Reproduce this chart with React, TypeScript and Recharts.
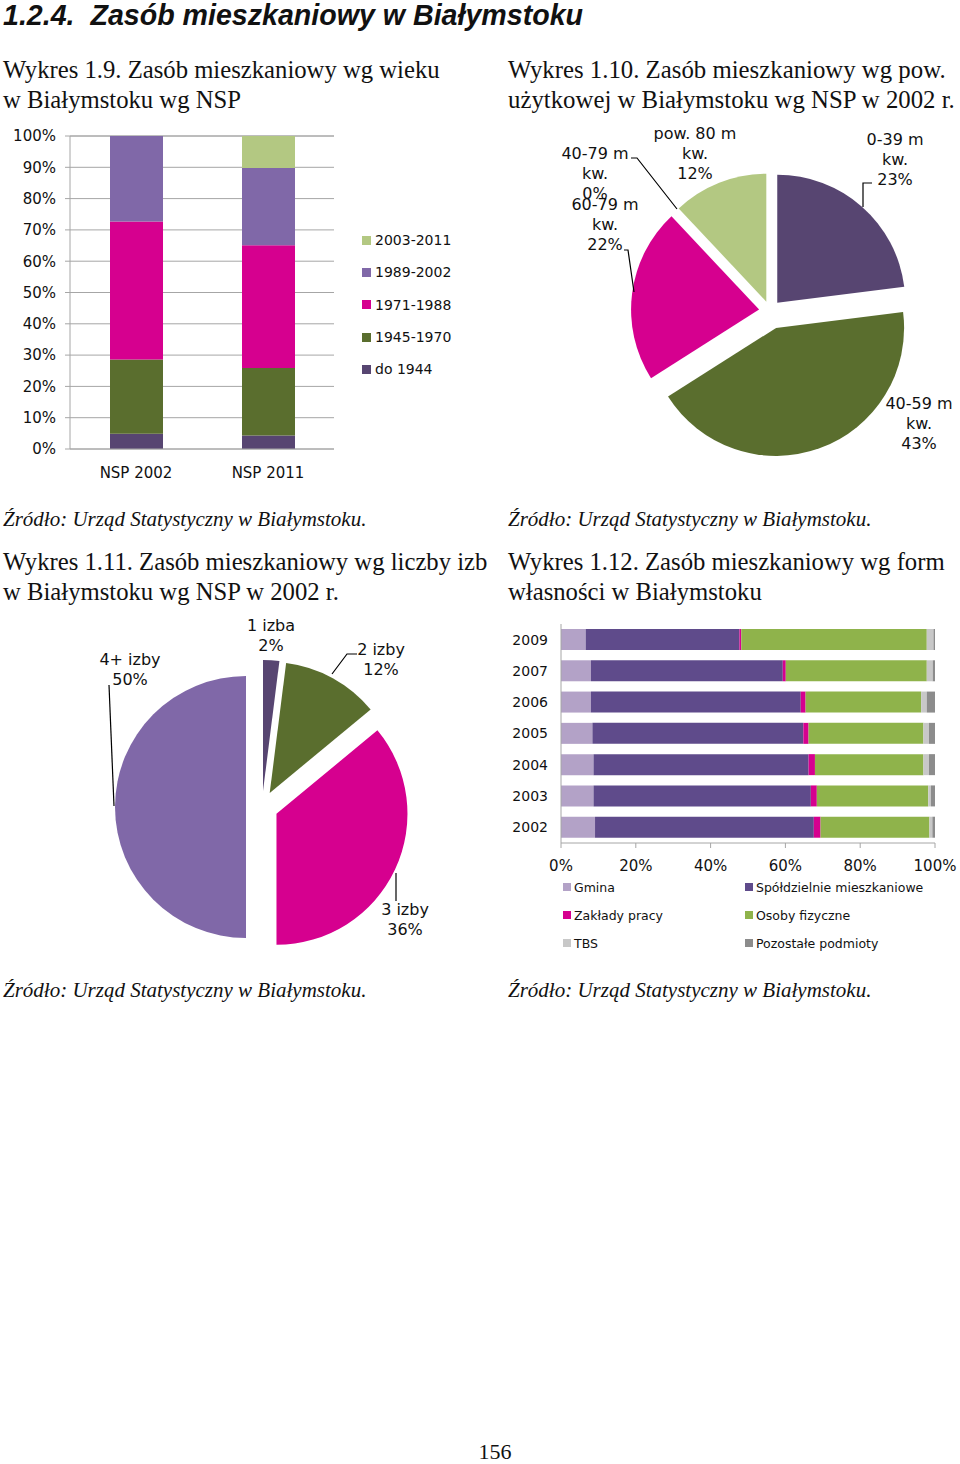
import React from "react";
import { BarChart, Bar, XAxis, YAxis, CartesianGrid, Legend, PieChart, Pie, Cell, Sector } from "recharts";

// Wykres 1.9 - zasób wg wieku (NSP)
const ageCategories = ["NSP 2002", "NSP 2011"];
const ageSeriesNames = ["do 1944", "1945-1970", "1971-1988", "1989-2002", "2003-2011"];
const ageDo1944 = [4.9, 4.3];
const age1945_1970 = [23.7, 21.6];
const age1971_1988 = [44.1, 39.2];
const age1989_2002 = [27.3, 24.7];
const age2003_2011 = [0, 10.2];
const pctTicks10 = [0, 10, 20, 30, 40, 50, 60, 70, 80, 90, 100];

// Wykres 1.10 - wg powierzchni użytkowej
const areaNames = ["0-39 m", "40-59 m", "60-79 m", "40-79 m", "pow. 80 m"];
const areaValues = [23, 43, 22, 0, 12];

// Wykres 1.11 - wg liczby izb
const roomNames = ["1 izba", "2 izby", "3 izby", "4+ izby"];
const roomValues = [2, 12, 36, 50];

// Wykres 1.12 - wg form własności
const ownYears = ["2009", "2007", "2006", "2005", "2004", "2003", "2002"];
const ownSeriesNames = ["Gmina", "Spółdzielnie mieszkaniowe", "Zakłady pracy", "Osoby fizyczne", "TBS", "Pozostałe podmioty"];
const ownGmina = [6.6, 8.0, 8.0, 8.4, 8.7, 8.7, 9.1];
const ownSpoldz = [41.1, 51.3, 56.1, 56.4, 57.5, 58.1, 58.5];
const ownZaklady = [0.5, 0.8, 1.3, 1.4, 1.7, 1.6, 1.8];
const ownOsoby = [49.6, 37.7, 30.9, 30.7, 29.0, 29.8, 29.1];
const ownTbs = [1.8, 1.6, 1.5, 1.5, 1.5, 0.7, 0.8];
const ownPozostale = [0.4, 0.6, 2.2, 1.6, 1.6, 1.1, 0.7];
const pctTicks20 = [0, 20, 40, 60, 80, 100];

const C = {
  darkPurple: "#574571",
  olive: "#5a6e2e",
  magenta: "#d6008f",
  purple: "#8068a8",
  lightGreen: "#b3c882",
  lavender: "#b3a2c7",
  coop: "#5f4b8b",
  green: "#8fb34b",
  tbs: "#c8c8c8",
  other: "#8c8c8c",
  grid: "#a6a6a6",
};

const AXIS_FONT = "'DejaVu Sans', Verdana, sans-serif";
const SERIF = "'Liberation Serif', 'Times New Roman', serif";

const ageData = ageCategories.map((c, i) => ({
  cat: c,
  a: ageDo1944[i],
  b: age1945_1970[i],
  c: age1971_1988[i],
  d: age1989_2002[i],
  e: age2003_2011[i],
}));

const areaData = areaNames.map((n, i) => ({ name: n, value: areaValues[i] }));
const areaColors = [C.darkPurple, C.olive, C.magenta, "#a99bc9", C.lightGreen];
// how far each slice is pulled out (px)
const areaExplode = [11, 18, 11, 10, 10];

const roomData = roomNames.map((n, i) => ({ name: n, value: roomValues[i] }));
const roomColors = [C.darkPurple, C.olive, C.magenta, C.purple];
const roomExplode = [16, 16, 16, 16];

const ownData = ownYears.map((y, i) => ({
  year: y,
  gmina: ownGmina[i],
  spoldz: ownSpoldz[i],
  zaklady: ownZaklady[i],
  osoby: ownOsoby[i],
  tbs: ownTbs[i],
  poz: ownPozostale[i],
}));

type LabelPos = { dx: number; dy: number; lead?: number[][] };

// label placement relative to pie centre (Excel places them by hand)
const areaLabelPos: LabelPos[] = [
  { dx: 125, dy: -172, lead: [[102, -128], [93, -128], [93, -104]] },
  { dx: 149, dy: 92 },
  { dx: -165, dy: -107, lead: [[-146, -61], [-142, -61], [-136, -19]] },
  { dx: -175, dy: -158, lead: [[-139, -153], [-133, -153], [-93, -102]] },
  { dx: -75, dy: -178 },
];

const roomLabelPos: LabelPos[] = [
  { dx: 9, dy: -182 },
  { dx: 119, dy: -158, lead: [[95, -153], [85, -153], [70, -133]] },
  { dx: 143, dy: 102, lead: [[134, 66], [134, 94]] },
  { dx: -132, dy: -148, lead: [[-153, -122], [-148, -1]] },
];

const noMargin = { top: 0, right: 0, bottom: 0, left: 0 };

function explode(names: string[], dists: number[]) {
  return (props: any) => {
    const name = props.payload?.name ?? props.name;
    const k = names.indexOf(name);
    const dist = k >= 0 ? dists[k] : 0;
    const mid = ((props.startAngle + props.endAngle) / 2) * (Math.PI / 180);
    return (
      <Sector
        {...props}
        cx={props.cx + dist * Math.cos(mid)}
        cy={props.cy - dist * Math.sin(mid)}
      />
    );
  };
}

function pieLabel(pos: LabelPos[], withKw: boolean) {
  return (props: any) => {
    const p = pos[props.index];
    if (!p) return null;
    const cx = Number(props.cx);
    const cy = Number(props.cy);
    const lines = withKw
      ? [props.name, "kw.", `${props.value}%`]
      : [props.name, `${props.value}%`];
    return (
      <g key={`lbl-${props.index}`}>
        {p.lead && (
          <polyline
            points={p.lead.map(([x, y]) => `${cx + x},${cy + y}`).join(" ")}
            fill="none"
            stroke="#000"
            strokeWidth={1.2}
          />
        )}
        {lines.map((t: string, i: number) => (
          <text
            key={i}
            x={cx + p.dx}
            y={cy + p.dy + i * 20}
            textAnchor="middle"
            dominantBaseline="central"
            fontFamily={AXIS_FONT}
            fontSize={16}
            fill="#111"
          >
            {t}
          </text>
        ))}
      </g>
    );
  };
}

function orderBy(payload: any[] | undefined, names: string[]) {
  const items = [...(payload || [])];
  return names.map((n) => items.find((it) => it.value === n)).filter(Boolean);
}

function AgeLegend({ payload }: any) {
  const items = orderBy(payload, [...ageSeriesNames].reverse());
  return (
    <div style={{ fontFamily: AXIS_FONT, fontSize: 14, color: "#111" }}>
      {items.map((it: any) => (
        <div key={it.value} style={{ height: 32.3, display: "flex", alignItems: "center" }}>
          <span style={{ width: 9, height: 9, background: it.color, marginRight: 4, display: "inline-block" }} />
          {it.value}
        </div>
      ))}
    </div>
  );
}

function OwnLegend({ payload }: any) {
  const items = orderBy(payload, ownSeriesNames);
  return (
    <div
      style={{
        display: "grid",
        gridTemplateColumns: "182px 200px",
        fontFamily: AXIS_FONT,
        fontSize: 12.5,
        color: "#111",
      }}
    >
      {items.map((it: any) => (
        <div key={it.value} style={{ height: 28, display: "flex", alignItems: "center" }}>
          <span style={{ width: 8, height: 8, background: it.color, marginRight: 3, display: "inline-block" }} />
          {it.value}
        </div>
      ))}
    </div>
  );
}

const heading: React.CSSProperties = {
  position: "absolute",
  fontFamily: SERIF,
  fontSize: 24.7,
  lineHeight: "30px",
  color: "#111",
  whiteSpace: "nowrap",
};

const source: React.CSSProperties = {
  position: "absolute",
  fontFamily: SERIF,
  fontStyle: "italic",
  fontSize: 21,
  lineHeight: "24px",
  color: "#111",
  whiteSpace: "nowrap",
};

export default function App() {
  return (
    <div style={{ position: "absolute", left: 0, top: 0, width: 960, height: 1464, background: "#fff", overflow: "hidden" }}>
      <div
        style={{
          position: "absolute",
          left: 3,
          top: -1,
          fontFamily: "'Liberation Sans', Arial, sans-serif",
          fontWeight: "bold",
          fontStyle: "italic",
          fontSize: 28.6,
          lineHeight: "32px",
          color: "#111",
          whiteSpace: "pre",
        }}
      >
        {"1.2.4.  Zasób mieszkaniowy w Białymstoku"}
      </div>

      <div style={{ ...heading, left: 3, top: 55 }}>
        Wykres 1.9. Zasób mieszkaniowy wg wieku
        <br />w Białymstoku wg NSP
      </div>
      <div style={{ ...heading, left: 508, top: 55, fontSize: 24.8 }}>
        Wykres 1.10. Zasób mieszkaniowy wg pow.
        <br />
        użytkowej w Białymstoku wg NSP w 2002 r.
      </div>

      {/* Wykres 1.9 */}
      <div style={{ position: "absolute", left: 0, top: 120 }}>
        <BarChart width={470} height={370} data={ageData} margin={{ top: 16, right: 136, left: 0, bottom: 0 }} barSize={53}>
          <CartesianGrid vertical={false} stroke={C.grid} />
          <XAxis
            dataKey="cat"
            height={41}
            tickLine={false}
            tickMargin={12}
            axisLine={{ stroke: C.grid }}
            tick={{ fontFamily: AXIS_FONT, fontSize: 15, fill: "#111" }}
          />
          <YAxis
            width={70}
            domain={[0, 100]}
            ticks={pctTicks10}
            interval={0}
            tickSize={5}
            tickMargin={9}
            tickFormatter={(v: number) => `${v}%`}
            axisLine={{ stroke: C.grid }}
            tickLine={{ stroke: C.grid }}
            tick={{ fontFamily: AXIS_FONT, fontSize: 15, fill: "#111" }}
          />
          <Legend
            layout="horizontal"
            verticalAlign="middle"
            align="center"
            wrapperStyle={{ left: 362, top: 104, width: 110 }}
            content={<AgeLegend />}
          />
          <Bar dataKey="a" name={ageSeriesNames[0]} stackId="s" fill={C.darkPurple} isAnimationActive={false} />
          <Bar dataKey="b" name={ageSeriesNames[1]} stackId="s" fill={C.olive} isAnimationActive={false} />
          <Bar dataKey="c" name={ageSeriesNames[2]} stackId="s" fill={C.magenta} isAnimationActive={false} />
          <Bar dataKey="d" name={ageSeriesNames[3]} stackId="s" fill={C.purple} isAnimationActive={false} />
          <Bar dataKey="e" name={ageSeriesNames[4]} stackId="s" fill={C.lightGreen} isAnimationActive={false} />
        </BarChart>
      </div>

      {/* Wykres 1.10 */}
      <div style={{ position: "absolute", left: 500, top: 115 }}>
        <PieChart width={460} height={360} margin={noMargin}>
          <Pie
            data={areaData}
            dataKey="value"
            nameKey="name"
            cx={270}
            cy={196}
            outerRadius={128}
            startAngle={90}
            endAngle={-270}
            stroke="none"
            shape={explode(areaNames, areaExplode)}
            labelLine={false}
            label={pieLabel(areaLabelPos, true)}
            isAnimationActive={false}
          >
            {areaData.map((d, i) => (
              <Cell key={d.name} fill={areaColors[i]} />
            ))}
          </Pie>
        </PieChart>
      </div>

      <div style={{ ...source, left: 3, top: 507 }}>Źródło: Urząd Statystyczny w Białymstoku.</div>
      <div style={{ ...source, left: 508, top: 507 }}>Źródło: Urząd Statystyczny w Białymstoku.</div>

      <div style={{ ...heading, left: 3, top: 547 }}>
        Wykres 1.11. Zasób mieszkaniowy wg liczby izb
        <br />w Białymstoku wg NSP w 2002 r.
      </div>
      <div style={{ ...heading, left: 508, top: 547 }}>
        Wykres 1.12. Zasób mieszkaniowy wg form
        <br />
        własności w Białymstoku
      </div>

      {/* Wykres 1.11 */}
      <div style={{ position: "absolute", left: 0, top: 610 }}>
        <PieChart width={490} height={360} margin={noMargin}>
          <Pie
            data={roomData}
            dataKey="value"
            nameKey="name"
            cx={262}
            cy={197}
            outerRadius={131}
            startAngle={90}
            endAngle={-270}
            stroke="none"
            shape={explode(roomNames, roomExplode)}
            labelLine={false}
            label={pieLabel(roomLabelPos, false)}
            isAnimationActive={false}
          >
            {roomData.map((d, i) => (
              <Cell key={d.name} fill={roomColors[i]} />
            ))}
          </Pie>
        </PieChart>
      </div>

      {/* Wykres 1.12 */}
      <div style={{ position: "absolute", left: 500, top: 610 }}>
        <BarChart
          width={460}
          height={350}
          data={ownData}
          layout="vertical"
          margin={{ top: 14, right: 25, left: 0, bottom: 87 }}
          barSize={21}
        >
          <XAxis
            type="number"
            domain={[0, 100]}
            ticks={pctTicks20}
            interval={0}
            height={30}
            tickSize={5}
            tickMargin={12}
            tickFormatter={(v: number) => `${v}%`}
            axisLine={{ stroke: C.grid }}
            tickLine={{ stroke: C.grid }}
            tick={{ fontFamily: AXIS_FONT, fontSize: 15, fill: "#111" }}
          />
          <YAxis
            type="category"
            dataKey="year"
            width={61}
            tickSize={5}
            tickMargin={8}
            tickLine={false}
            axisLine={{ stroke: C.grid }}
            tick={{ fontFamily: AXIS_FONT, fontSize: 14, fill: "#111" }}
          />
          <Legend
            layout="horizontal"
            verticalAlign="middle"
            align="center"
            wrapperStyle={{ left: 63, top: 263, width: 390 }}
            content={<OwnLegend />}
          />
          <Bar dataKey="gmina" name={ownSeriesNames[0]} stackId="o" fill={C.lavender} isAnimationActive={false} />
          <Bar dataKey="spoldz" name={ownSeriesNames[1]} stackId="o" fill={C.coop} isAnimationActive={false} />
          <Bar dataKey="zaklady" name={ownSeriesNames[2]} stackId="o" fill={C.magenta} isAnimationActive={false} />
          <Bar dataKey="osoby" name={ownSeriesNames[3]} stackId="o" fill={C.green} isAnimationActive={false} />
          <Bar dataKey="tbs" name={ownSeriesNames[4]} stackId="o" fill={C.tbs} isAnimationActive={false} />
          <Bar dataKey="poz" name={ownSeriesNames[5]} stackId="o" fill={C.other} isAnimationActive={false} />
        </BarChart>
      </div>

      <div style={{ ...source, left: 3, top: 978 }}>Źródło: Urząd Statystyczny w Białymstoku.</div>
      <div style={{ ...source, left: 508, top: 978 }}>Źródło: Urząd Statystyczny w Białymstoku.</div>

      <div
        style={{
          position: "absolute",
          left: 0,
          width: 990,
          top: 1439,
          textAlign: "center",
          fontFamily: SERIF,
          fontSize: 22,
          lineHeight: "26px",
          color: "#111",
        }}
      >
        156
      </div>
    </div>
  );
}
